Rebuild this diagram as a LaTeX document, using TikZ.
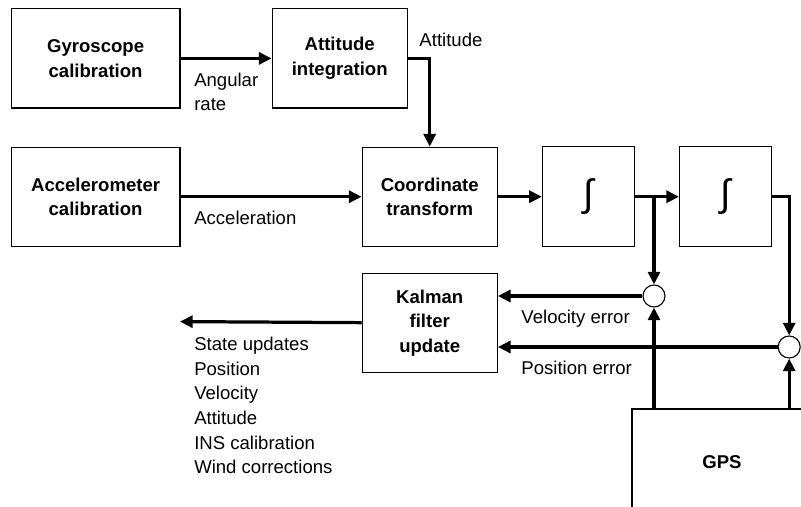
\documentclass[tikz,border=0pt]{standalone}
\usepackage{amsmath}
\usepackage{fontspec}
\setmainfont{Liberation Sans}
\usetikzlibrary{arrows.meta, positioning}

\begin{document}
\begin{tikzpicture}[
  blk/.style = {draw, line width=0.8pt, align=center, inner sep=0pt, minimum height=2.48cm, font=\fontsize{13.2}{17.5}\selectfont\bfseries},
  wide/.style = {blk, minimum width=4.22cm},
  mid/.style = {blk, minimum width=3.38cm},
  intbox/.style = {blk, minimum width=2.3cm, minimum height=2.5cm, font=\mdseries},
  sum/.style = {draw, circle, line width=0.8pt, minimum size=0.55cm, inner sep=0pt},
  lbl/.style = {anchor=west, align=left, inner sep=0pt, font=\fontsize{13.2}{17.5}\selectfont},
  flow/.style = {line width=2.3pt, -{Triangle[length=9pt, width=8.5pt]}},
  wire/.style = {line width=2.3pt}
]
\clip (0,0) rectangle (20.025,-12.675);
        % blocks
        \node[wide] (gyro) at (2.39,-1.46) {Gyroscope\\calibration};
        \node[mid] (att) [right=2.275cm of gyro] {Attitude\\integration};
        \node[wide] (acc) [below=0.95cm of gyro] {Accelerometer\\calibration};
        \node[mid] (coord) [right=4.525cm of acc] {Coordinate\\transform};
        \node[intbox] (int1) [right=1.1cm of coord] {\resizebox*{0.26cm}{0.9cm}{∫}};
        \node[intbox] (int2) [right=1.1cm of int1] {\resizebox*{0.26cm}{0.9cm}{∫}};
        \node[mid] (kal) [below=0.65cm of coord] {Kalman\\filter\\update};
        \node[blk, minimum width=4.5cm, minimum height=2.65cm] (gps) at (18.05,-11.55) {GPS};
        \node[sum] (c1) at (16.35,-7.4) {};
        \node[sum] (c2) at (19.73,-8.675) {};
        \coordinate (out) at (4.5,-8.04);
        % connectors
        \draw[flow] (gyro) -- (att);
        \draw[flow] (att) -| (coord);
        \draw[flow] (acc) -- (coord);
        \draw[flow] (coord) -- (int1);
        \draw[flow] (int1) -- (int2);
        \draw[flow] (int1.east -| c1) -- (c1);
        \draw[flow] (int2) -| (c2);
        \draw[flow] (c1) -- (c1 -| kal.east);
        \draw[flow] (c2) -- (c2 -| kal.east);
        \draw[flow] (gps.north -| c1) -- (c1);
        \draw[flow] (gps.north -| c2) -- (c2);
        \draw[flow] (kal) -- (out);
        % labels
        \node[lbl] (lrate) at (4.85,-2.3) {Angular\\rate};
        \node[lbl] (lacc) at (4.85,-5.45) {Acceleration};
        \node[lbl] (latt) at (10.48,-1.0) {Attitude};
        \node[lbl] (lvel) at (13.03,-7.975) {Velocity error};
        \node[lbl] (lpos) at (13.03,-9.2) {Position error};
        \node[lbl] (lstate) at (4.85,-10.14) {State updates\\Position\\Velocity\\Attitude\\INS calibration\\Wind corrections};
\end{tikzpicture}
\end{document}
